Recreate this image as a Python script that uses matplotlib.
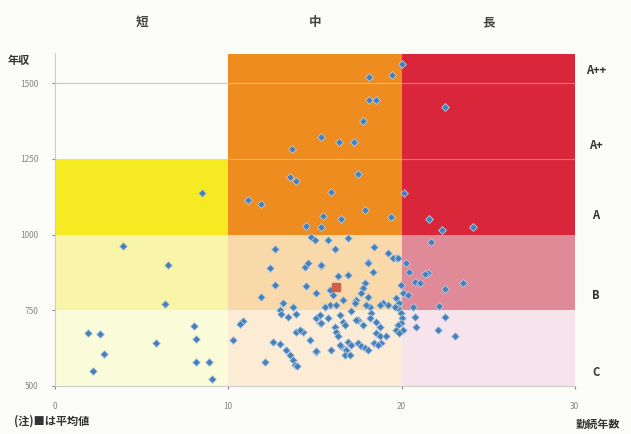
import numpy as np
import matplotlib.pyplot as plt

plt.rcParams['font.family'] = ['Noto Sans CJK JP', 'DejaVu Sans']

# 勤続年数 (x) と 年収 (y)
years = [8.5, 3.94, 6.53, 6.34, 1.92, 2.63, 2.84, 2.21, 5.86, 8.03, 8.17, 8.17, 8.9, 9.07,
         10.28,
         20.04, 19.44, 18.1, 18.1, 18.54, 17.77, 15.37, 16.37, 17.25, 13.68, 13.54, 13.89,
         17.48, 15.91, 20.17, 11.14, 11.87, 17.87, 19.4, 15.46, 16.48, 14.5, 15.37,
         22.48, 21.6, 22.35, 24.1, 21.7,
         19.69, 20.27, 20.46, 21.52, 21.33, 20.75, 21.04, 23.53, 22.48, 19.98, 20.07, 20.36,
         19.69, 19.88, 19.79, 19.98, 20.0, 19.98, 20.07, 20.65, 22.19, 20.75, 22.48, 20.85,
         22.1, 23.1,
         14.8, 14.99, 12.68, 12.39, 14.41, 14.6, 15.37, 12.68, 14.5, 15.08, 11.91, 13.16,
         12.97, 13.07, 13.45, 13.74, 13.93, 10.85, 10.66, 15.08, 15.27, 13.93, 14.31, 14.7,
         12.58, 12.97, 13.35, 13.54, 13.74, 13.87, 15.08, 12.1, 14.12,
         15.75, 16.9, 16.14, 18.44, 19.21, 19.5, 19.79, 15.37, 18.06, 18.35, 16.33, 16.9,
         15.85, 16.04, 17.87, 17.77, 17.68, 17.39, 17.29, 18.06, 18.16, 18.25, 18.16, 16.62,
         15.85, 15.56, 16.24, 18.92, 19.21, 19.6, 19.79, 19.69, 19.88, 15.27, 15.75, 15.37,
         16.43, 16.62, 16.71, 17.1, 17.48, 17.77, 18.54, 18.73, 16.14, 16.24, 16.33, 18.54,
         18.73, 19.1, 16.9, 17.1, 17.48, 17.68, 17.87, 18.06, 18.44, 18.83, 16.52, 16.81,
         16.71, 17.0, 15.08, 15.95, 18.06, 17.96, 18.73, 17.39, 18.63, 16.43, 13.95]
income = [1138, 962, 899, 770, 676, 671, 606, 549, 643, 698, 655, 580, 580, 524,
          652,
          1565, 1528, 1521, 1446, 1444, 1375, 1323, 1306, 1306, 1282, 1191, 1176,
          1200, 1141, 1136, 1114, 1100, 1081, 1059, 1062, 1051, 1029, 1026,
          1420, 1051, 1015, 1026, 976,
          921, 905, 877, 874, 870, 844, 841, 839, 819, 833, 806, 800,
          789, 773, 756, 740, 723, 707, 685, 762, 764, 727, 727, 696,
          685, 665,
          993, 982, 951, 888, 894, 907, 897, 833, 831, 806, 792, 773,
          751, 737, 729, 762, 737, 714, 704, 723, 707, 677, 677, 652,
          646, 639, 619, 602, 586, 569, 611, 578, 685,
          982, 987, 952, 960, 938, 921, 921, 899, 910, 877, 864, 866,
          817, 800, 839, 822, 806, 784, 773, 795, 762, 740, 723, 784,
          767, 762, 767, 773, 767, 762, 701, 685, 674, 734, 723, 707,
          734, 712, 701, 748, 718, 701, 712, 696, 696, 679, 663, 674,
          663, 663, 646, 635, 641, 630, 624, 619, 641, 641, 630, 619,
          602, 602, 614, 619, 905, 767, 767, 718, 635, 635, 564]
avg_years = [16.23]
avg_income = [828]

zone_cols = ['短', '中', '長']
zone_x = [(0, 10), (10, 20), (20, 30)]
zone_colors = [
    ['#fafbd8', '#f8f4a8', '#f6ea22'],
    ['#fcebd5', '#f9d8aa', '#ee8c1f'],
    ['#f7e3ec', '#e08a98', '#d9263b'],
]
zone_y = [(500, 750), (750, 1000)]
zone_top = [1250, 1595, 1595]
grades = ['A++', 'A+', 'A', 'B', 'C']
grade_y = [1543, 1295, 1064, 797, 543]

fig = plt.figure(figsize=(6.31, 4.34), dpi=100, facecolor='#fbfbf8')
ax = fig.add_axes([0.087, 0.111, 0.824, 0.767])
ax.set_facecolor('#fbfbf8')

for i, (x0, x1) in enumerate(zone_x):
    bands = zone_y + [(1000, zone_top[i])]
    for j, (y0, y1) in enumerate(bands):
        ax.fill_between([x0, x1], y0, y1, color=zone_colors[i][j], lw=0, zorder=1)

ax.hlines(1500, 0, 10, color='#c8c8c8', lw=0.8, zorder=2)
ax.hlines([1250, 1500], 10, 30, color='white', lw=0.8, alpha=0.35, zorder=2)

ax.scatter(years, income, marker='D', s=16, c='#4680bb', edgecolors='#b8cde0',
           linewidths=0.6, zorder=3)
ax.scatter(avg_years, avg_income, marker='s', s=30, c='#d0604a', zorder=4)

ax.set_xlim(0, 30)
ax.set_ylim(500, 1600)
ax.set_xticks([0, 10, 20, 30])
ax.set_yticks([500, 750, 1000, 1250, 1500])
ax.tick_params(labelsize=6, colors='#888888', length=2, pad=10)
for s in ['top', 'right']:
    ax.spines[s].set_visible(False)
for s in ['left', 'bottom']:
    ax.spines[s].set_color('#cccccc')

for name, (x0, x1) in zip(zone_cols, zone_x):
    ax.text((x0 + x1) / 2, 1701, name, ha='center', va='center', fontsize=9,
            fontweight='bold', color='#444444', clip_on=False)
for g, gy in zip(grades, grade_y):
    ax.text(31.2, gy, g, ha='center', va='center', fontsize=8, fontweight='bold',
            color='#333333', clip_on=False)

ax.text(-2.1, 1576, '年収', ha='center', va='center', fontsize=8,
        fontweight='bold', color='#333333', clip_on=False)
fig.text(0.948, 0.037, '勤続年数', ha='center', va='top', fontsize=8,
         fontweight='bold', color='#333333')
fig.text(0.022, 0.045, '(注)■は平均値', ha='left', va='top', fontsize=8,
         fontweight='bold', color='#333333')

fig.savefig('out.png', dpi=100, facecolor=fig.get_facecolor())
